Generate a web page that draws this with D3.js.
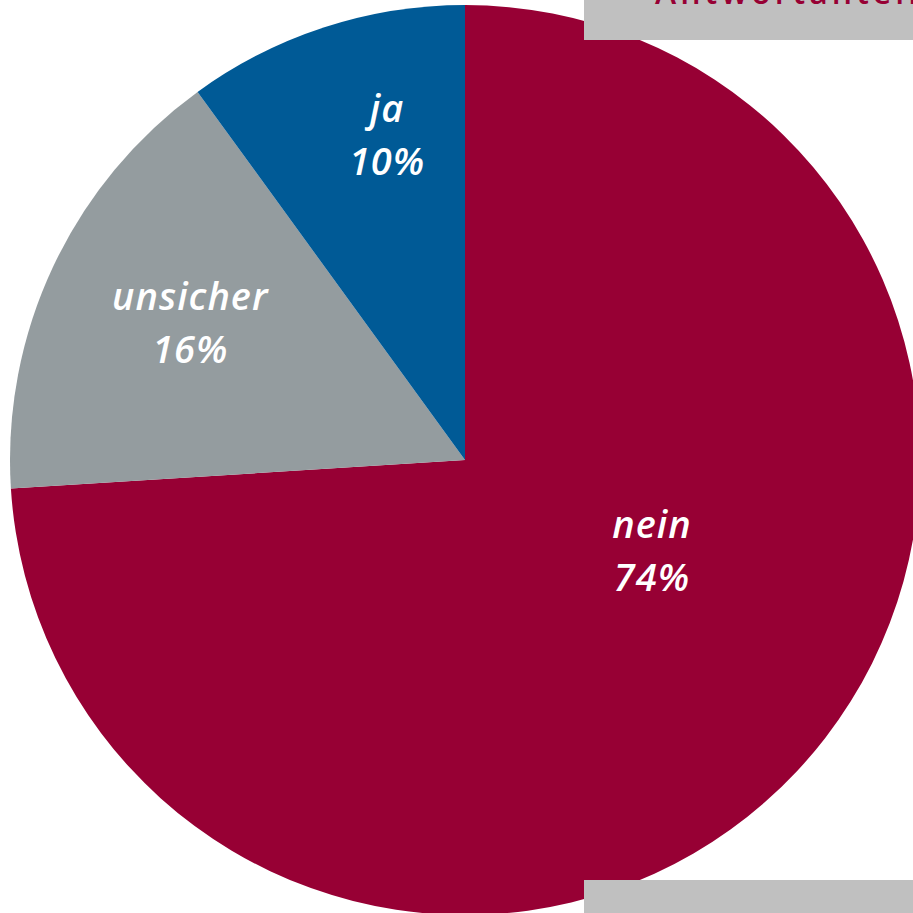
<!DOCTYPE html>
<html>
<head>
<meta charset="utf-8">
<script src="https://cdn.jsdelivr.net/npm/d3@7"></script>
<style>
  body { margin: 0; background: #fff; overflow: hidden; }
</style>
</head>
<body>
<svg width="913" height="913"></svg>
<script>
  // data
  const labels = ["nein", "unsicher", "ja"];
  const values = [74, 16, 10];
  const colors = ["#970034", "#949c9f", "#005a96"];

  // label placement (angle in degrees clockwise from top, radius in px)
  const labelAngle = [116, 296.5, 346.5];
  const labelRadius = [208, 307, 334];

  const svg = d3.select("svg");
  const cx = 465, cy = 460, r = 455;

  const g = svg.append("g")
    .attr("transform", "translate(" + cx + "," + cy + ")");

  const pie = d3.pie().sort(null).value(function(d) { return d; });
  const arc = d3.arc().innerRadius(0).outerRadius(r);

  const arcs = pie(values);

  g.selectAll("path")
    .data(arcs)
    .enter()
    .append("path")
    .attr("d", arc)
    .attr("fill", function(d, i) { return colors[i]; });

  // labels
  const lab = g.selectAll(".lab")
    .data(arcs)
    .enter()
    .append("text")
    .attr("class", "lab")
    .attr("text-anchor", "middle")
    .style("font-family", "Open Sans")
    .style("font-style", "italic")
    .style("font-weight", 600)
    .style("font-size", "38px")
    .style("letter-spacing", "1px")
    .style("fill", "#fff")
    .attr("transform", function(d, i) {
      const a = labelAngle[i] * Math.PI / 180;
      const x = labelRadius[i] * Math.sin(a);
      const y = -labelRadius[i] * Math.cos(a);
      return "translate(" + x + "," + y + ")";
    });

  lab.append("tspan")
    .attr("x", 0)
    .attr("y", -13)
    .text(function(d, i) { return labels[i]; });

  lab.append("tspan")
    .attr("x", 0)
    .attr("y", 40)
    .text(function(d, i) { return values[i] + "%"; });

  // gray boxes on top (cropped slide elements)
  svg.append("rect")
    .attr("x", 584).attr("y", 0)
    .attr("width", 329).attr("height", 40)
    .attr("fill", "#c0c0c0");

  svg.append("text")
    .attr("x", 655)
    .attr("y", 4)
    .style("font-family", "Open Sans")
    .style("font-weight", 600)
    .style("font-size", "32px")
    .style("letter-spacing", "4px")
    .style("fill", "#970034")
    .text("Antwortanteil");

  svg.append("rect")
    .attr("x", 584).attr("y", 880)
    .attr("width", 329).attr("height", 33)
    .attr("fill", "#c0c0c0");
</script>
</body>
</html>
